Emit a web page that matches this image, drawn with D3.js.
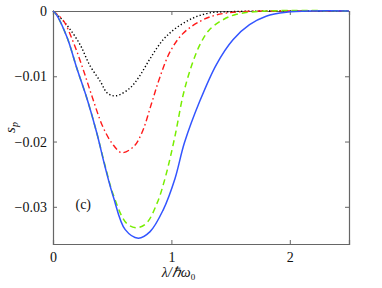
<!DOCTYPE html>
<html>
  <head>
    <meta charset="utf-8">
    <script src="https://d3js.org/d3.v7.min.js"></script>
    <style>
      body { margin: 0; background: #fff; }
    </style>
  </head>
  <body>
    <div id="chart"></div>
    <script>
      // values: lambda / hbar omega_0 against s_p
      const xTicks = [0, 1, 2];
      const yTicks = [0, -0.01, -0.02, -0.03];

      const blackX = [0, 0.06, 0.14, 0.23, 0.31, 0.40, 0.46, 0.53, 0.65, 0.73, 0.82, 0.93, 1.04, 1.18, 1.32, 1.5, 1.8, 2.5];
      const blackY = [0, -0.0010, -0.0027, -0.0052, -0.0083, -0.0108, -0.0126, -0.0130, -0.0118, -0.0100, -0.0073, -0.0044, -0.0026, -0.0011, -0.0003, -0.0001, 0, 0];

      const redX = [0, 0.085, 0.17, 0.25, 0.33, 0.42, 0.50, 0.58, 0.68, 0.75, 0.83, 0.90, 0.99, 1.10, 1.24, 1.38, 1.6, 2.0, 2.5];
      const redY = [0, -0.0014, -0.0047, -0.0087, -0.0131, -0.0177, -0.0203, -0.0217, -0.0208, -0.0187, -0.0143, -0.0103, -0.0062, -0.0034, -0.0016, -0.0006, -0.0001, 0, 0];

      const greenX = [0, 0.03, 0.12, 0.20, 0.29, 0.37, 0.44, 0.51, 0.62, 0.71, 0.79, 0.88, 0.95, 1.03, 1.10, 1.17, 1.24, 1.32, 1.44, 1.55, 1.8, 2.5];
      const greenY = [0, -0.0006, -0.0041, -0.0087, -0.0136, -0.0187, -0.0237, -0.0282, -0.0325, -0.0332, -0.0325, -0.0294, -0.0254, -0.0192, -0.0128, -0.0084, -0.0052, -0.0029, -0.0013, -0.0005, 0, 0];

      const blueX = [0, 0.03, 0.12, 0.20, 0.29, 0.37, 0.44, 0.51, 0.61, 0.72, 0.82, 0.93, 1.03, 1.11, 1.24, 1.38, 1.52, 1.66, 1.80, 1.97, 2.2, 2.5];
      const blueY = [0, -0.0006, -0.0041, -0.0087, -0.0136, -0.0187, -0.0239, -0.0285, -0.0335, -0.0348, -0.0338, -0.0305, -0.0257, -0.0202, -0.0138, -0.0082, -0.0044, -0.0021, -0.0008, -0.0002, 0, 0];

      const serif = "Liberation Serif";

      const width = 382;
      const height = 288;
      const margin = {top: 11, right: 33, bottom: 44, left: 53};
      const innerWidth = width - margin.left - margin.right;
      const innerHeight = height - margin.top - margin.bottom;

      const svg = d3.select("#chart")
        .append("svg")
        .attr("width", width)
        .attr("height", height)
        .style("font-family", serif);

      const g = svg.append("g")
        .attr("transform", "translate(" + margin.left + "," + margin.top + ")");

      const xScale = d3.scaleLinear().domain([0, 2.5]).range([0, innerWidth]);
      const yScale = d3.scaleLinear().domain([-0.0357, 0]).range([innerHeight, 0]);

      const fmt = d => d === 0 ? "0" : "\u2212" + d3.format(".2f")(-d);

      // axes with inward ticks, on all four sides
      const xAxis = g.append("g")
        .attr("transform", "translate(0," + innerHeight + ")")
        .call(d3.axisBottom(xScale).tickValues(xTicks).tickSize(-4).tickPadding(8).tickFormat(d3.format("d")));
      g.append("g")
        .attr("class", "bare")
        .call(d3.axisTop(xScale).tickValues(xTicks).tickSize(-4));
      const yAxis = g.append("g")
        .call(d3.axisLeft(yScale).tickValues(yTicks).tickSize(-4).tickPadding(6).tickFormat(fmt));
      g.append("g")
        .attr("class", "bare")
        .attr("transform", "translate(" + innerWidth + ",0)")
        .call(d3.axisRight(yScale).tickValues(yTicks).tickSize(-4));

      g.selectAll(".bare .tick text").remove();
      // drop the sans-serif that d3 puts on every axis group
      g.selectAll("g").attr("font-family", null).attr("font-size", null);
      g.selectAll(".domain").attr("stroke", "#666").attr("stroke-width", 1.2);
      g.selectAll(".tick line").attr("stroke", "#666");
      g.selectAll(".tick text")
        .style("font-family", serif)
        .style("font-size", "14px")
        .attr("fill", "#111");

      const line = d3.line()
        .x(d => xScale(d[0]))
        .y(d => yScale(d[1]))
        .curve(d3.curveCatmullRom.alpha(0.5));

      const series = [
        {x: blackX, y: blackY, color: "#000", dash: "1.3,2.2", w: 1.4},
        {x: redX, y: redY, color: "#ff1a1a", dash: "6,3,1.5,3", w: 1.4},
        {x: greenX, y: greenY, color: "#77ee00", dash: "6,4", w: 1.5},
        {x: blueX, y: blueY, color: "#3355ff", dash: null, w: 1.5}
      ];

      g.selectAll(".curve")
        .data(series)
        .enter().append("path")
        .attr("class", "curve")
        .attr("fill", "none")
        .attr("stroke", d => d.color)
        .attr("stroke-width", d => d.w)
        .attr("stroke-dasharray", d => d.dash)
        .attr("d", d => line(d.x.map((v, i) => [v, d.y[i]])));

      // labels
      const xl = svg.append("text")
        .attr("x", margin.left + xScale(1.06))
        .attr("y", 277)
        .attr("text-anchor", "middle")
        .style("font-family", serif)
        .style("font-size", "14px")
        .attr("fill", "#111");
      xl.append("tspan").style("font-style", "italic").text("\u03bb/\u210f\u03c9");
      xl.append("tspan").style("font-size", "9px").attr("dy", 3).text("0");

      const yl = svg.append("text")
        .attr("transform", "translate(15," + (margin.top + innerHeight / 2) + ") rotate(-90)")
        .attr("text-anchor", "middle")
        .style("font-family", serif)
        .style("font-size", "15px")
        .style("font-style", "italic")
        .attr("fill", "#111");
      yl.append("tspan").text("s");
      yl.append("tspan").style("font-size", "10px").attr("dy", 3).text("p");

      g.append("text")
        .attr("x", xScale(0.19))
        .attr("y", yScale(-0.0303))
        .style("font-family", serif)
        .style("font-size", "14px")
        .attr("fill", "#111")
        .text("(c)");
    </script>
  </body>
</html>
